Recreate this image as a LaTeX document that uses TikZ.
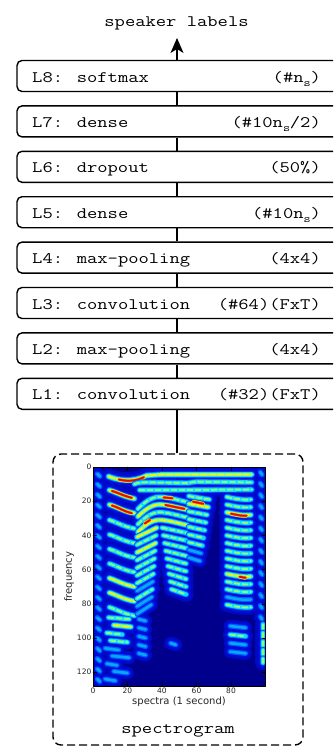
\documentclass[tikz,border=0pt]{standalone}
\usepackage{fontspec}
\usepackage{graphicx}
\usetikzlibrary{arrows.meta}
\newfontfamily\plotfont{DejaVu Sans}

% jet colour map
\definecolor{jbg}{rgb}{0,0,0.55}
\definecolor{jm}{rgb}{0,0.05,0.85}
\definecolor{jb}{rgb}{0,0.35,1}
\definecolor{jc}{rgb}{0.05,0.85,1}
\definecolor{jg}{rgb}{0.5,1,0.5}
\definecolor{jy}{rgb}{1,0.95,0}
\definecolor{jo}{rgb}{1,0.45,0}
\definecolor{jr}{rgb}{0.85,0.05,0}

\newcommand\mono[1]{\scalebox{1.25}[1]{\fontsize{16pt}{16pt}\selectfont\ttfamily #1}}
\newcommand\subs[1]{\makebox[5.5pt][l]{\raisebox{-4.5pt}{\fontsize{11pt}{11pt}\selectfont #1}}}

\tikzset{
  layerbox/.style={draw, line width=1.4pt, rounded corners=5pt,
    minimum width=335pt, minimum height=31pt, inner sep=0pt},
  txt/.style={inner sep=0pt},
  link/.style={line width=1.4pt},
  specbox/.style={draw, line width=1.4pt, dash pattern=on 8pt off 4pt,
    rounded corners=8pt, minimum width=250pt, minimum height=291pt, inner sep=0pt},
  ticklab/.style={font=\plotfont\fontsize{7.5pt}{7.5pt}\selectfont, inner sep=1.5pt, text=black!85},
  axlab/.style={font=\plotfont\fontsize{10pt}{10pt}\selectfont, inner sep=0pt, text=black!85},
  % first pass: wide soft haze around every band
  glowpass/.style={
    bandA/.style={draw=jm!70!jbg, line width=13pt},
    bandB/.style={draw=jm!70!jbg, line width=15pt},
    bandC/.style={draw=jm!70!jbg, line width=16pt},
    bandH/.style={draw=none}},
  % second pass: blue haze
  hazepass/.style={
    bandA/.style={draw=jm, line width=9pt},
    bandB/.style={draw=jm, line width=10.5pt},
    bandC/.style={draw=jm, line width=11.5pt},
    bandH/.style={draw=none}},
  % third pass: layered jet colours, blotchy cores
  colourpass/.style={
    bandA/.style={preaction={draw=jb, line width=5pt}, draw=jc!60!jb, line width=2.6pt},
    bandB/.style={preaction={draw=jb, line width=6pt}, preaction={draw=jc, line width=4.2pt},
      draw=jg, line width=2pt, dash pattern=on 5pt off 3pt},
    bandC/.style={preaction={draw=jb, line width=6.5pt}, preaction={draw=jc, line width=4.8pt},
      preaction={draw=jg, line width=3.2pt}, draw=jy, line width=1.6pt, dash pattern=on 6pt off 2.5pt},
    bandH/.style={preaction={draw=jy, line width=3.8pt}, preaction={draw=jo, line width=2.8pt},
      draw=jr, line width=1.7pt}},
}

% harmonic bands of the spectrogram, in (time, frequency bin) units
\newcommand\specbands{%
  % first voiced stretch: widely spaced harmonics
  \draw[bandC] (9,5.5) .. controls (15,8) and (23,9) .. (31,5) -- (40,4.4) -- (92,4.4);
  \draw[bandH] (15,7.3) .. controls (20,8.6) and (25,8.2) .. (29.5,6);
  \foreach \ff/\st in {13.5/bandC,22/bandC,31/bandB,39.5/bandB,48/bandB,56.5/bandB,65/bandC,73.5/bandC,82/bandB}
    \draw[\st] (9.5,\ff) .. controls (13,\ff+1) and (18,\ff+4) .. (24,\ff+5);
  \draw[bandH] (11,14) .. controls (14,14.8) and (18,17) .. (22.5,18);
  \draw[bandH] (11,22.5) .. controls (14,23.3) and (18,26) .. (22.5,27);
  % dense upper harmonics
  \draw[bandB] (24,10) .. controls (27,9) .. (32,9) -- (55,9.3) -- (60,8.6) -- (92,9);
  \draw[bandB] (27,13.5) -- (92,13.2);
  % second stretch: arched harmonics
  \foreach \ff/\st in {17.5/bandB,22/bandC,26.5/bandB,31/bandC}
    \draw[\st] (26,\ff+7) .. controls (31,\ff+2) and (35,\ff-0.5) .. (40,\ff)
      .. controls (45,\ff+0.5) and (50,\ff+2) .. (54.5,\ff+3);
  \draw[bandH] (41,17.8) -- (46,18.3);
  \draw[bandH] (42,22.2) -- (53,24.5);
  \draw[bandH] (30,33) -- (33,31);
  \foreach \ff/\st in {35.5/bandC,40/bandB,44.5/bandC,49/bandB,53.5/bandB,58/bandB,62.5/bandB,67/bandA,71.5/bandB,76/bandA,80.5/bandA}
    \draw[\st] (25.5,\ff+5.5) -- ({37-(\ff-35)*0.07},\ff);
  \foreach \ff in {35.5,40,44.5,49,53.5,58,62.5,67,71.5}
    \draw[bandB] ({39.5+(\ff-32)*0.15},\ff) -- (54,\ff+3);
  % third stretch
  \foreach \ff/\st in {17/bandB,21.5/bandC,26/bandB,30.5/bandB,35/bandB,39.5/bandB,44/bandB,48.5/bandA,53/bandA}
    \draw[\st] (55.5,\ff) -- ({67.5-(\ff-17)*0.15},\ff+2);
  \draw[bandH] (58,20.3) -- (64,21.5);
  % fourth stretch
  \foreach \ff/\st in {17.5/bandB,22/bandB,26.5/bandC,31/bandB,35.5/bandB,40/bandB,44.5/bandB,49/bandB,53.5/bandB,58/bandB,62.5/bandC,67/bandB,71.5/bandB,76/bandA,80.5/bandB}
    \draw[\st] (77.5,\ff) .. controls (82,\ff+1) and (87,\ff+2) .. (91.5,\ff+1.5);
  \draw[bandH] (80,27.3) .. controls (83,27.9) and (86,28.7) .. (89,28.5);
  \draw[bandH] (85,64.2) -- (88.5,64.8);
  % low-frequency energy
  \foreach \ff/\st/\a/\b in {88/bandB/9/21,92.5/bandC/12/22,97/bandB/8/17,101.5/bandB/10/20,106/bandA/7/15,110.5/bandA/11/21,115/bandA/8/14,119.5/bandA/12/20,124/bandA/7/13}
    \draw[\st] (\a,\ff) -- (\b,\ff+1);
  \foreach \ff in {89,94,99,104,109}
    \draw[bandA] (26.5,\ff) -- (30.5,\ff+1);
  \draw[bandA] (45,103) -- (48,104);
  \foreach \ff/\st in {93/bandA,98/bandB,103/bandA,108/bandA}
    \draw[\st] (79.5,\ff) -- (88.5,\ff+1);
  % edge columns
  \foreach \ff in {3,9.5,16,22.5,29,35.5,42,48.5,55,61.5,68,74.5,81,87.5}
    \draw[bandA] (97,\ff) -- (98,\ff+1.5);
  \foreach \ff in {92,97,102,107,112}
    \draw[bandB] (98.5,\ff) -- (98.5,\ff+2.5);
  \foreach \ff in {4,10,...,124}
    \draw[bandA] (2.5,\ff) -- (4,\ff+1.5);
}

\begin{document}
\begin{tikzpicture}[x=1pt, y=1pt]
  \useasboundingbox (0,0) rectangle (333,-750);
  \clip (0,0) rectangle (333,-750);
  \coordinate (stem) at (177,0);
  \coordinate (tip) at (177,-38);

  % output label
  \node[txt, anchor=base] (out) at (176.5,-26) {\mono{speaker labels}};

  % network layers
  \node[layerbox] (l8) at (184.5,-76) {};
  \node[layerbox] (l7) at (184.5,-121.4) {};
  \node[layerbox] (l6) at (184.5,-166.8) {};
  \node[layerbox] (l5) at (184.5,-212.2) {};
  \node[layerbox] (l4) at (184.5,-257.6) {};
  \node[layerbox] (l3) at (184.5,-303) {};
  \node[layerbox] (l2) at (184.5,-348.4) {};
  \node[layerbox] (l1) at (184.5,-393.8) {};

  \node[txt, anchor=base west] (l8a) at (32,-82) {\mono{L8: softmax}};
  \node[txt, anchor=base east] (l8b) at (321,-82) {\mono{(\#n\subs{s})}};
  \node[txt, anchor=base west] (l7a) at (32,-127.4) {\mono{L7: dense}};
  \node[txt, anchor=base east] (l7b) at (321,-127.4) {\mono{(\#10n\subs{s}/2)}};
  \node[txt, anchor=base west] (l6a) at (32,-172.8) {\mono{L6: dropout}};
  \node[txt, anchor=base east] (l6b) at (321,-172.8) {\mono{(50\%)}};
  \node[txt, anchor=base west] (l5a) at (32,-218.2) {\mono{L5: dense}};
  \node[txt, anchor=base east] (l5b) at (321,-218.2) {\mono{(\#10n\subs{s})}};
  \node[txt, anchor=base west] (l4a) at (32,-263.6) {\mono{L4: max-pooling}};
  \node[txt, anchor=base east] (l4b) at (321,-263.6) {\mono{(4x4)}};
  \node[txt, anchor=base west] (l3a) at (32,-309) {\mono{L3: convolution}};
  \node[txt, anchor=base east] (l3b) at (321,-309) {\mono{(\#64)(FxT)}};
  \node[txt, anchor=base west] (l2a) at (32,-354.4) {\mono{L2: max-pooling}};
  \node[txt, anchor=base east] (l2b) at (321,-354.4) {\mono{(4x4)}};
  \node[txt, anchor=base west] (l1a) at (32,-399.8) {\mono{L1: convolution}};
  \node[txt, anchor=base east] (l1b) at (321,-399.8) {\mono{(\#32)(FxT)}};

  % input panel
  \node[specbox] (spec) at (178,-599.5) {};
  \node[txt, anchor=base] (speclab) at (178,-733) {\mono{spectrogram}};

  % connectors
  \draw[link] (spec.north -| stem) -- (l1.south -| stem);
  \draw[link] (l1.north -| stem) -- (l2.south -| stem);
  \draw[link] (l2.north -| stem) -- (l3.south -| stem);
  \draw[link] (l3.north -| stem) -- (l4.south -| stem);
  \draw[link] (l4.north -| stem) -- (l5.south -| stem);
  \draw[link] (l5.north -| stem) -- (l6.south -| stem);
  \draw[link] (l6.north -| stem) -- (l7.south -| stem);
  \draw[link] (l7.north -| stem) -- (l8.south -| stem);
  \draw[link, -{Stealth[length=15pt, width=13pt, inset=4pt]}] (l8.north -| stem) -- (tip);

  % spectrogram plot
  \begin{scope}[shift={(93,-467)}, x=1.725pt, y=-1.71pt, line cap=round, line join=round]
    \begin{scope}
      \clip (0,0) rectangle (100,128);
      \fill[jbg] (0,0) rectangle (100,128);
      \begin{scope}[glowpass] \specbands \end{scope}
      \begin{scope}[hazepass] \specbands \end{scope}
      \begin{scope}[colourpass] \specbands \end{scope}
    \end{scope}
    \draw[black, line width=0.6pt] (0,0) rectangle (100,128);
    \foreach \ff in {20,40,...,120} {
      \draw[black, line width=0.5pt] (0,\ff) -- ++(3.5pt,0);
      \draw[black, line width=0.5pt] (100,\ff) -- ++(-3.5pt,0);
    }
    \foreach \xx in {20,40,60,80} {
      \draw[black, line width=0.5pt] (\xx,128) -- ++(0,3.5pt);
      \draw[black, line width=0.5pt] (\xx,0) -- ++(0,-3.5pt);
    }
    \foreach \ff in {0,20,...,120}
      \node[ticklab, anchor=east] (yt\ff) at (0,\ff) {\ff};
    \foreach \xx in {0,20,...,80}
      \node[ticklab, anchor=north] (xt\xx) at (\xx,128) {\xx};
  \end{scope}
  \node[axlab, rotate=90] (ylab) at (69,-576.7) {frequency};
  \node[axlab] (xlab) at (179,-701.5) {spectra (1 second)};
\end{tikzpicture}
\end{document}
